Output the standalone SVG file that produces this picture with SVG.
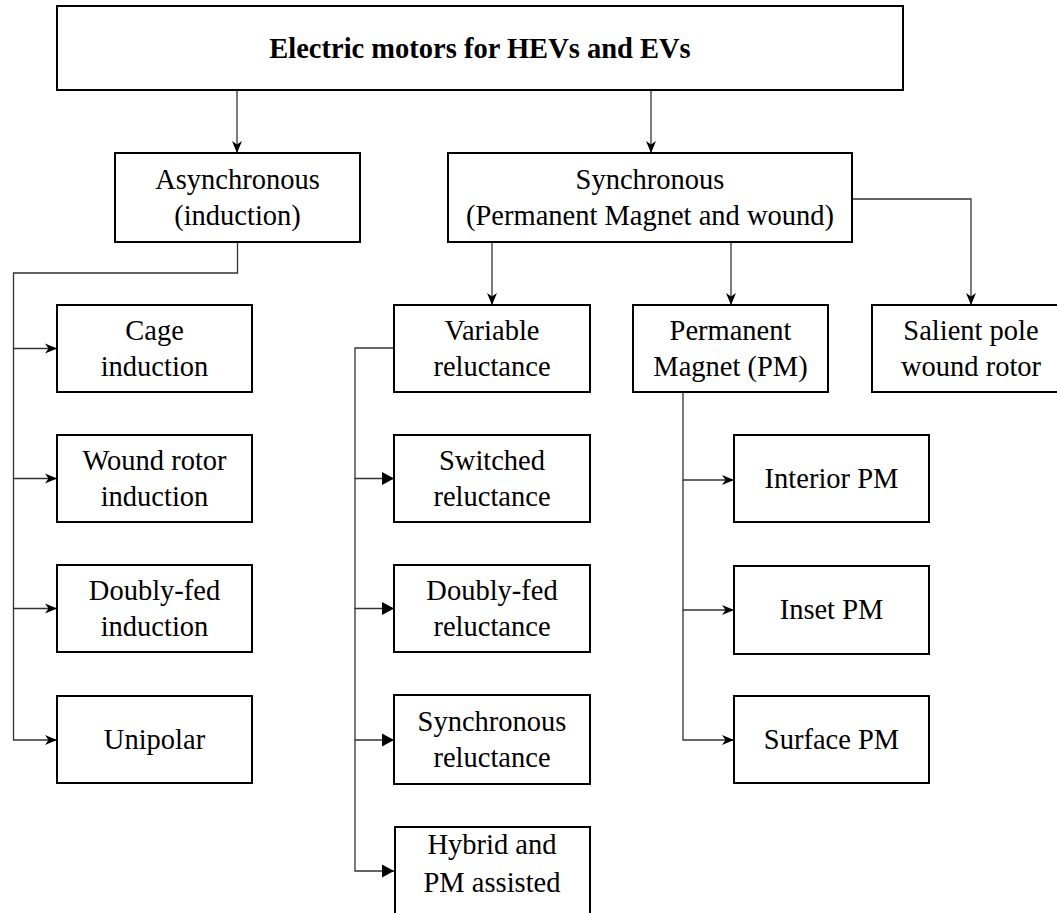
<svg xmlns="http://www.w3.org/2000/svg" width="1057" height="913" viewBox="0 0 1057 913">
<style>
.box{fill:#fff;stroke:#000;stroke-width:2}
.t{font-family:'Liberation Serif','Times New Roman',serif;font-size:28.5px;fill:#000;text-anchor:middle}
.b{font-weight:bold}
.c{fill:none;stroke:#333;stroke-width:1.3}
</style>
<defs>
<marker id="cl" viewBox="0 0 12 12" refX="12" refY="6" markerWidth="12" markerHeight="12" markerUnits="userSpaceOnUse" orient="auto">
<path d="M0,1 L12,6 L0,11 L3.5,6 Z" fill="#000"/>
</marker>
<marker id="bl" viewBox="0 0 12 14" refX="12" refY="7" markerWidth="12" markerHeight="14" markerUnits="userSpaceOnUse" orient="auto">
<path d="M0,0.5 L12,7 L0,13.5 Z" fill="#000"/>
</marker>
</defs>
<rect width="1057" height="913" fill="#fff"/>
<g id="connectors">
<path class="c" d="M237,90 V153" marker-end="url(#cl)"/>
<path class="c" d="M651,90 V153" marker-end="url(#cl)"/>
<path class="c" d="M237.5,242 V273 H13.5 V348.5 H57" marker-end="url(#cl)"/>
<path class="c" d="M13.5,348.5 V478.5 H57" marker-end="url(#cl)"/>
<path class="c" d="M13.5,478.5 V608.5 H57" marker-end="url(#cl)"/>
<path class="c" d="M13.5,608.5 V740 H57" marker-end="url(#cl)"/>
<path class="c" d="M492,242 V305" marker-end="url(#cl)"/>
<path class="c" d="M731,242 V305" marker-end="url(#cl)"/>
<path class="c" d="M852,199 H971 V305" marker-end="url(#cl)"/>
<path class="c" d="M396,348 H355 V478.5 H394" marker-end="url(#bl)"/>
<path class="c" d="M355,478.5 V608.5 H394" marker-end="url(#bl)"/>
<path class="c" d="M355,608.5 V740 H394" marker-end="url(#bl)"/>
<path class="c" d="M355,740 V871 H394" marker-end="url(#bl)"/>
<path class="c" d="M683,392 V480 H734" marker-end="url(#cl)"/>
<path class="c" d="M683,480 V610 H734" marker-end="url(#cl)"/>
<path class="c" d="M683,610 V740 H734" marker-end="url(#cl)"/>
</g>
<g id="root"><rect class="box" x="57" y="6" width="846" height="84"/><text class="t b" x="480" y="57.5">Electric motors for HEVs and EVs</text></g>
<g id="async"><rect class="box" x="115" y="153" width="245" height="89"/><text class="t" x="237.5" y="189">Asynchronous</text><text class="t" x="237.5" y="225">(induction)</text></g>
<g id="sync"><rect class="box" x="448" y="153" width="404" height="89"/><text class="t" x="650" y="189">Synchronous</text><text class="t" x="650" y="225">(Permanent Magnet and wound)</text></g>
<g id="cage"><rect class="box" x="57" y="305" width="195" height="87"/><text class="t" x="154.5" y="340">Cage</text><text class="t" x="154.5" y="376">induction</text></g>
<g id="wound"><rect class="box" x="57" y="435" width="195" height="87"/><text class="t" x="154.5" y="470">Wound rotor</text><text class="t" x="154.5" y="506">induction</text></g>
<g id="dfi"><rect class="box" x="57" y="565" width="195" height="87"/><text class="t" x="154.5" y="600">Doubly-fed</text><text class="t" x="154.5" y="636">induction</text></g>
<g id="unipolar"><rect class="box" x="57" y="696" width="195" height="87"/><text class="t" x="154.5" y="749">Unipolar</text></g>
<g id="variable"><rect class="box" x="394" y="305" width="196" height="87"/><text class="t" x="492" y="340">Variable</text><text class="t" x="492" y="376">reluctance</text></g>
<g id="switched"><rect class="box" x="394" y="435" width="196" height="87"/><text class="t" x="492" y="470">Switched</text><text class="t" x="492" y="506">reluctance</text></g>
<g id="dfr"><rect class="box" x="394" y="565" width="196" height="87"/><text class="t" x="492" y="600">Doubly-fed</text><text class="t" x="492" y="636">reluctance</text></g>
<g id="synrel"><rect class="box" x="394" y="695" width="196" height="89"/><text class="t" x="492" y="731">Synchronous</text><text class="t" x="492" y="767">reluctance</text></g>
<g id="hybrid"><rect class="box" x="395" y="827" width="195" height="100"/><text class="t" x="492" y="854">Hybrid and</text><text class="t" x="492" y="892">PM assisted</text></g>
<g id="pm"><rect class="box" x="633" y="305" width="195" height="87"/><text class="t" x="730.5" y="340">Permanent</text><text class="t" x="730.5" y="376">Magnet (PM)</text></g>
<g id="salient"><rect class="box" x="872" y="305" width="198" height="87"/><text class="t" x="971" y="340">Salient pole</text><text class="t" x="971" y="376">wound rotor</text></g>
<g id="interior"><rect class="box" x="734" y="435" width="195" height="87"/><text class="t" x="831.5" y="488">Interior PM</text></g>
<g id="inset"><rect class="box" x="734" y="566" width="195" height="88"/><text class="t" x="831.5" y="619">Inset PM</text></g>
<g id="surface"><rect class="box" x="734" y="696" width="195" height="87"/><text class="t" x="831.5" y="749">Surface PM</text></g>
</svg>
